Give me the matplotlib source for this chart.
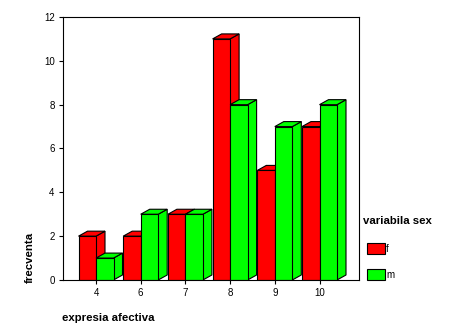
import matplotlib
matplotlib.use("Agg")
import matplotlib.pyplot as plt
from matplotlib.patches import Polygon, Rectangle

# Frequencies of "expresia afectiva" scores split by sex
categories = ["4", "6", "7", "8", "9", "10"]
freq_f = [2, 2, 3, 11, 5, 7]
freq_m = [1, 3, 3, 8, 7, 8]
series_names = ["f", "m"]
series_colors = ["#ff0000", "#00ff00"]
y_ticks = [0, 2, 4, 6, 8, 10, 12]

plt.rcParams['font.family'] = ['Liberation Sans', 'DejaVu Sans']

W, H = 454, 334
fig = plt.figure(figsize=(W / 100, H / 100), dpi=100)
fig.patch.set_facecolor("white")

# axes box in pixels
ax_left, ax_bottom, ax_w, ax_h = 63, 54, 296, 263
ax = fig.add_axes([ax_left / W, ax_bottom / H, ax_w / W, ax_h / H])

slot_px = 44.7                       # pixels per category slot
x_lo = -33 / slot_px
x_hi = x_lo + ax_w / slot_px
ax.set_xlim(x_lo, x_hi)
ax.set_ylim(y_ticks[0], y_ticks[-1])

bar_w = 17.5 / slot_px               # width of one bar's front face
dx = 9 / slot_px                     # depth offset, horizontal
dy = 5 * (y_ticks[-1] - y_ticks[0]) / ax_h   # depth offset, vertical

LW = 0.8


def bar3d(x0, h, color):
    x1 = x0 + bar_w
    kw = dict(facecolor=color, edgecolor="black", linewidth=LW, joinstyle="miter")
    side = Polygon([(x1, 0), (x1 + dx, dy), (x1 + dx, h + dy), (x1, h)], **kw)
    top = Polygon([(x0, h), (x0 + dx, h + dy), (x1 + dx, h + dy), (x1, h)], **kw)
    front = Rectangle((x0, 0), bar_w, h, **kw)
    for p in (side, top, front):
        ax.add_patch(p)


for i in range(len(categories)):
    for j, vals in enumerate((freq_f, freq_m)):
        x0 = i - bar_w + j * bar_w
        bar3d(x0, vals[i], series_colors[j])

ax.set_xticks(range(len(categories)))
ax.set_xticklabels(categories)
ax.set_yticks(y_ticks)
ax.tick_params(axis="x", length=3, width=LW, pad=3, labelsize=7, direction="out")
ax.tick_params(axis="y", length=3, width=LW, pad=3, labelsize=7, direction="out")
for s in ax.spines.values():
    s.set_linewidth(LW)

# axis titles
fig.text(29.5 / W, 1 - 257 / H, "frecventa", rotation=90, ha="center", va="center",
         fontsize=8.2, fontweight="bold")
fig.text(62 / W, 1 - 318 / H, "expresia afectiva", ha="left", va="center",
         fontsize=8.2, fontweight="bold")

# legend
fig.text(363 / W, 1 - 221 / H, "variabila sex", ha="left", va="center",
         fontsize=8.2, fontweight="bold")
legend_rows = [248.5, 274.5]
for name, color, yc in zip(series_names, series_colors, legend_rows):
    fig.add_artist(Rectangle((367 / W, 1 - (yc + 5.5) / H), 18 / W, 11 / H,
                             transform=fig.transFigure, facecolor=color,
                             edgecolor="black", linewidth=LW))
    fig.text(386 / W, 1 - (yc + 1) / H, name, ha="left", va="center", fontsize=7)

fig.savefig("out.png", dpi=100, facecolor="white")
